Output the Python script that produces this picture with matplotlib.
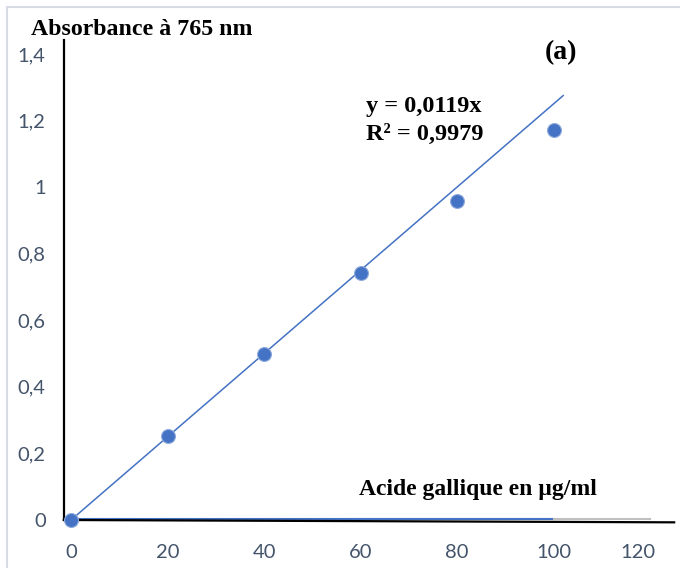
import matplotlib
matplotlib.use('Agg')
import matplotlib.pyplot as plt
import matplotlib.transforms as mtransforms
from matplotlib.patches import Rectangle

# gallic acid calibration data
conc = [0, 20, 40, 60, 80, 100]
absorb = [0.0, 0.252, 0.50, 0.742, 0.958, 1.171]
trend_slope = 0.0125        # slope of the drawn trend line as it appears
trend_x = [0, 102]
xticks = [0, 20, 40, 60, 80, 100, 120]
yticks = [0, 0.2, 0.4, 0.6, 0.8, 1.0, 1.2, 1.4]
ytick_labels = ['0', '0,2', '0,4', '0,6', '0,8', '1', '1,2', '1,4']

BLUE = '#4472C4'
TICK_CLR = '#44546A'
serif = 'Liberation Serif'

fig = plt.figure(figsize=(6.8, 5.68), dpi=100)
ax = fig.add_axes([0.0938, 0.0845, 0.9047, 0.8451])

# light frame around the whole picture
fig.patches.append(Rectangle((0.010, -0.01), 1.0, 0.998, transform=fig.transFigure,
                             fill=False, edgecolor='#D6DCE5', linewidth=1.5))

ax.set_xlim(-1.5, 126)
ax.set_ylim(0, 1.442)
for s in ['top', 'right', 'bottom']:
    ax.spines[s].set_visible(False)
ax.spines['left'].set_color('black')
ax.spines['left'].set_linewidth(1.6)

ax.set_xticks(xticks)
ax.set_yticks(yticks)
ax.set_yticklabels(ytick_labels)
ax.tick_params(axis='both', length=0, labelsize=14.5, labelcolor=TICK_CLR)
ax.tick_params(axis='x', pad=17)
ax.tick_params(axis='y', pad=13)
for lbl in ax.get_xticklabels() + ax.get_yticklabels():
    lbl.set_family('Lato')
# excel pushes the last x label inside the chart area
last = ax.get_xticklabels()[-1]
last.set_transform(last.get_transform() +
                   mtransforms.ScaledTranslation(-12 / 100, 0, fig.dpi_scale_trans))

# excel-like x axis line (blue under data, grey beyond) then black line on top
ax.plot([0, 100], [0.003, 0.003], color=BLUE, lw=1.5, clip_on=False, zorder=2)
ax.plot([100, 120], [0.003, 0.003], color='#BFBFBF', lw=1.5, clip_on=False, zorder=2)
ax.plot([-1.5, 125], [0, -0.007], color='black', lw=1.6, clip_on=False, zorder=3)

trend_y = [trend_slope * x for x in trend_x]
ax.plot(trend_x, trend_y, color=BLUE, lw=1.1, zorder=4, clip_on=False)
ax.plot(conc, absorb, 'o', color=BLUE, markersize=10, markeredgecolor='#8FAADC',
        markeredgewidth=0.8, zorder=5, clip_on=False)

fig.text(31 / 680, 1 - 35 / 568, 'Absorbance à 765 nm', family=serif, weight='bold',
         fontsize=17.2, ha='left', va='baseline')
fig.text(561 / 680, 1 - 53 / 568, '(a)', family=serif, weight='bold',
         fontsize=20, ha='center', va='center')
fig.text(366 / 680, 1 - 112 / 568, 'y = 0,0119x', family=serif, weight='bold',
         fontsize=17.5, ha='left', va='baseline')
fig.text(366 / 680, 1 - 140 / 568, 'R² = 0,9979', family=serif, weight='bold',
         fontsize=17.5, ha='left', va='baseline')
fig.text(478 / 680, 1 - 490 / 568, 'Acide gallique en µg/ml', family=serif, weight='bold',
         fontsize=17, ha='center', va='center')

fig.savefig('out.png', dpi=100)
